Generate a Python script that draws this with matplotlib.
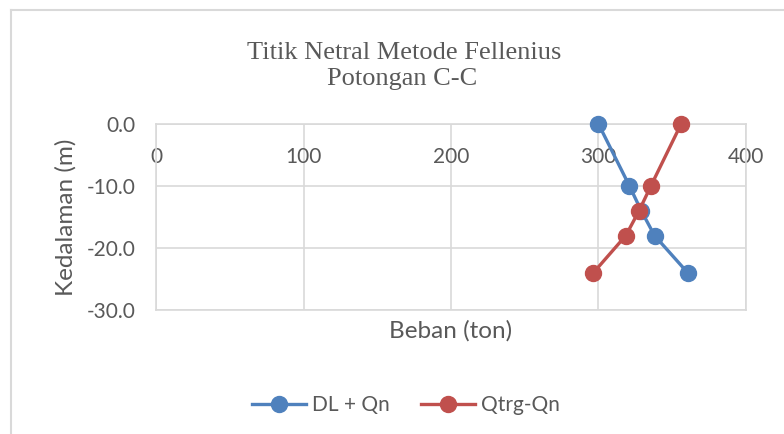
import matplotlib
matplotlib.use("Agg")
import matplotlib.pyplot as plt
from matplotlib.lines import Line2D

depth = [0, -10, -14, -18, -24]
dl_qn = [300, 321, 329, 338, 360.5]
qtrg_qn = [356, 335.5, 327.5, 318.5, 296.5]
x_ticks = [0, 100, 200, 300, 400]
y_ticks = [0, -10, -20, -30]
title_lines = ["Titik Netral Metode Fellenius", "Potongan C-C"]

W, H = 784, 434
fig = plt.figure(figsize=(W / 100, H / 100), dpi=100)
plt.rcParams['font.family'] = ['Lato', 'DejaVu Sans']
txt = '#595959'
grid = '#D9D9D9'
blue = '#4F81BD'
red = '#C0504D'

# chart area border (open at right and bottom)
fig.add_artist(Line2D([11 / W, 1], [1 - 9.5 / H, 1 - 9.5 / H], transform=fig.transFigure,
                      color=grid, lw=1.5))
fig.add_artist(Line2D([11 / W, 11 / W], [1 - 9.5 / H, 0], transform=fig.transFigure,
                      color=grid, lw=1.5))

ax = fig.add_axes([156 / W, 1 - 310 / H, (746 - 156) / W, (310 - 124) / H])
ax.set_xlim(0, 400)
ax.set_ylim(-30, 0)
ax.set_xticks(x_ticks)
ax.set_yticks(y_ticks)
ax.set_yticklabels([f"{v:.1f}" for v in y_ticks])
ax.grid(True, color=grid, lw=1.2)
ax.set_axisbelow(True)
for s in ax.spines.values():
    s.set_color(grid)
    s.set_linewidth(1.2)
ax.xaxis.tick_top()
ax.tick_params(axis='x', length=0, pad=-31, labelsize=15, labelcolor=txt)
ax.tick_params(axis='y', length=0, pad=15, labelsize=15, labelcolor=txt)

ax.plot(dl_qn, depth, color=blue, lw=2.4, marker='o', ms=11.5, label='DL + Qn', clip_on=False, zorder=3)
ax.plot(qtrg_qn, depth, color=red, lw=2.4, marker='o', ms=11.5, label='Qtrg-Qn', clip_on=False, zorder=3)

ax.xaxis.set_label_position('bottom')
ax.set_xlabel('Beban (ton)', fontsize=17.5, color=txt, labelpad=7)
ax.set_ylabel('Kedalaman (m)', fontsize=17.5, color=txt, labelpad=7)

fig.text(404 / W, 1 - 59 / H, title_lines[0], ha='center', va='baseline',
         fontsize=19, color=txt, family='Liberation Serif')
fig.text(402.5 / W, 1 - 85 / H, title_lines[1], ha='center', va='baseline',
         fontsize=19, color=txt, family='Liberation Serif')

leg = fig.legend(loc='center', bbox_to_anchor=(406 / W, 1 - 405 / H), ncol=2, frameon=False,
                 fontsize=15, labelcolor=txt, handlelength=2.6, columnspacing=1.5,
                 handletextpad=0.3)

fig.savefig('out.png', dpi=100)
